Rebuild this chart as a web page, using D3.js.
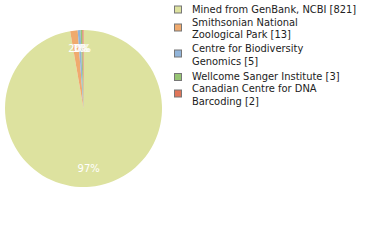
<!DOCTYPE html>
<html><head><meta charset="utf-8">
<script src="https://cdn.jsdelivr.net/npm/d3@7"></script>
<style>body{margin:0;background:#fff}svg{display:block}</style>
</head><body>
<script>
const categories = ["Mined from GenBank, NCBI [821]", "Smithsonian National Zoological Park [13]", "Centre for Biodiversity Genomics [5]", "Wellcome Sanger Institute [3]", "Canadian Centre for DNA Barcoding [2]"];
const legendLines = [["Mined from GenBank, NCBI [821]"], ["Smithsonian National", "Zoological Park [13]"], ["Centre for Biodiversity", "Genomics [5]"], ["Wellcome Sanger Institute [3]"], ["Canadian Centre for DNA", "Barcoding [2]"]];
const values = [821, 13, 5, 3, 2];
const colors = ["#dde29f", "#f0aa6e", "#92b5da", "#97c574", "#e07559"];

const W = 380, H = 240;
const svg = d3.select("body").append("svg").attr("width", W).attr("height", H);
const cx = 83.5, cy = 108.5, r = 78.5;
const total = d3.sum(values);
const pie = d3.pie().sort(null).value(d => d)(values);
const arc = d3.arc().innerRadius(0).outerRadius(r);
const labelArc = d3.arc().innerRadius(r * 0.77).outerRadius(r * 0.77);
const g = svg.append("g").attr("transform", `translate(${cx},${cy})`);
g.selectAll("path").data(pie).join("path").attr("d", arc).attr("fill", (d, i) => colors[i]);
g.selectAll("text").data(pie).join("text")
  .attr("transform", d => `translate(${labelArc.centroid(d)})`)
  .attr("text-anchor", "middle").attr("dy", "0.35em")
  .attr("fill", "#fff").attr("font-family", "DejaVu Sans").attr("font-size", 10)
  .text(d => Math.round(d.value / total * 100) + "%");

const lg = svg.append("g");
const squareY = [9.5, 27.5, 53.5, 77, 93.5];
const textY = [[9.5], [22, 34.5], [48.5, 61], [76.5], [88.5, 101]];
categories.forEach((c, i) => {
  lg.append("rect").attr("x", 174.5).attr("y", squareY[i] - 3.5).attr("width", 7).attr("height", 7)
    .attr("fill", colors[i]).attr("stroke", "#777").attr("stroke-width", 1);
  legendLines[i].forEach((t, j) => {
    lg.append("text").attr("x", 192).attr("y", textY[i][j]).attr("dy", "0.35em")
      .attr("font-family", "DejaVu Sans Condensed, DejaVu Sans").attr("font-size", 11).attr("fill", "#222").text(t);
  });
});
</script>
</body></html>
